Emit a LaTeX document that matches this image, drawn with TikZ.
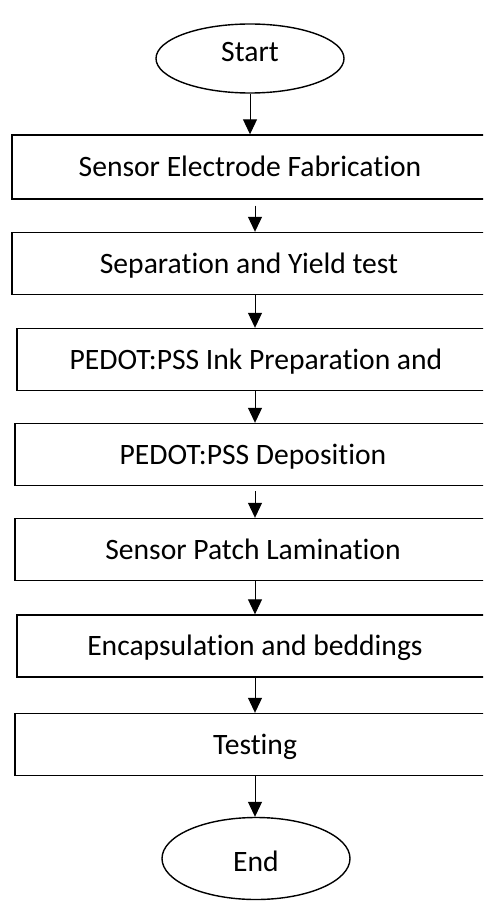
\documentclass[tikz,border=0pt]{standalone}
\usepackage{fontspec}
\setmainfont{Carlito}[RawFeature={-liga;-clig}]
\usetikzlibrary{shapes.geometric,arrows.meta}
\tikzset{
  stepbox/.style={draw=black, line width=1.4pt, rectangle, minimum height=62pt,
    text height=19pt, text depth=0pt, inner sep=0pt, font=\fontsize{29.6}{34}\selectfont},
  terminal/.style={draw=black, line width=1.4pt, ellipse, inner sep=0pt,
    minimum width=188pt, font=\fontsize{29.6}{34}\selectfont},
  arr/.style={line width=1pt, -{Triangle[length=15pt,width=14pt]}},
}
\begin{document}
\begin{tikzpicture}[x=1pt,y=-1pt]
  \useasboundingbox (0,0) rectangle (483,901);
  \clip (0,0) rectangle (483,901);
  \fill[white] (0,0) rectangle (483,901);

  % terminals
  \node[terminal, minimum height=69pt, text height=19pt, text depth=13pt] (start) at (250,58.5) {Start};
  \node[terminal, minimum height=82pt, text height=25pt, text depth=0pt] (end) at (256,858.5) {End};

  % process steps (right sides run past the page edge)
  \node[stepbox, minimum width=476pt, minimum height=64pt] (b1) at (250,167) {Sensor Electrode Fabrication};
  \node[stepbox, minimum width=474pt] (b2) at (249,263.5) {Separation and Yield test};
  \node[stepbox, minimum width=478pt] (b3) at (256,359.5) {PEDOT:PSS Ink Preparation and};
  \node[stepbox, minimum width=476pt] (b4) at (253,454.5) {PEDOT:PSS Deposition};
  \node[stepbox, minimum width=476pt] (b5) at (253,549.5) {Sensor Patch Lamination};
  \node[stepbox, minimum width=476pt] (b6) at (255,646) {Encapsulation and beddings};
  \node[stepbox, minimum width=480pt] (b7) at (255,744.5) {Testing};

  % connectors
  \coordinate (ax) at (255,0);
  \draw[arr] (start.south) -- (b1.north -| start.south);
  \draw[arr, shorten <=6pt] (b1.south -| ax) -- (b2.north -| ax);
  \draw[arr] (b2.south -| ax) -- (b3.north -| ax);
  \draw[arr] (b3.south -| ax) -- (b4.north -| ax);
  \draw[arr, shorten <=5pt] (b4.south -| ax) -- (b5.north -| ax);
  \draw[arr] (b5.south -| ax) -- (b6.north -| ax);
  \draw[arr] (b6.south -| ax) -- (b7.north -| ax);
  \draw[arr] (b7.south -| ax) -- (end.north -| ax);
\end{tikzpicture}
\end{document}
